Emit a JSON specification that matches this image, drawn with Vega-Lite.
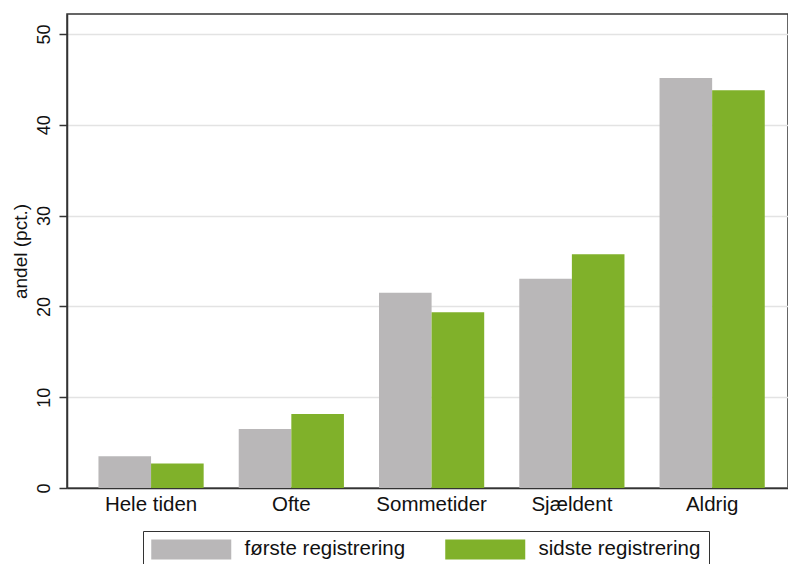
{
  "$schema": "https://vega.github.io/schema/vega-lite/v6.json",
  "autosize": {"type": "none"},
  "width": 721,
  "height": 474,
  "padding": {"left": 67, "top": 14, "right": 0, "bottom": 76},
  "background": "white",
  "config": {
    "font": "Liberation Sans",
    "view": {"stroke": "#333333", "strokeWidth": 1.5},
    "axis": {"labelFont": "Liberation Sans", "titleFont": "Liberation Sans", "labelColor": "#111", "titleColor": "#111"},
    "legend": {"labelFont": "Liberation Sans"}
  },
  "data": {
    "values": [
      {"kategori": "Hele tiden", "serie": "første registrering", "andel": 3.5},
      {"kategori": "Hele tiden", "serie": "sidste registrering", "andel": 2.7},
      {"kategori": "Ofte", "serie": "første registrering", "andel": 6.5},
      {"kategori": "Ofte", "serie": "sidste registrering", "andel": 8.15},
      {"kategori": "Sommetider", "serie": "første registrering", "andel": 21.5},
      {"kategori": "Sommetider", "serie": "sidste registrering", "andel": 19.35},
      {"kategori": "Sjældent", "serie": "første registrering", "andel": 23.05},
      {"kategori": "Sjældent", "serie": "sidste registrering", "andel": 25.75},
      {"kategori": "Aldrig", "serie": "første registrering", "andel": 45.15},
      {"kategori": "Aldrig", "serie": "sidste registrering", "andel": 43.8}
    ]
  },
  "mark": {"type": "bar"},
  "encoding": {
    "x": {
      "field": "kategori", "type": "nominal",
      "sort": ["Hele tiden", "Ofte", "Sommetider", "Sjældent", "Aldrig"],
      "scale": {"paddingInner": 0.25, "paddingOuter": 0.195, "align": 0.575},
      "axis": {"title": null, "labelAngle": 0, "labelFontSize": 20.5, "labelPadding": 6, "ticks": false, "domainColor": "#333", "domainWidth": 1.5}
    },
    "xOffset": {"field": "serie", "type": "nominal", "sort": ["første registrering", "sidste registrering"]},
    "y": {
      "field": "andel", "type": "quantitative",
      "scale": {"domain": [0, 52.2], "nice": false},
      "axis": {
        "title": "andel (pct.)", "titleFontSize": 19, "titleFontWeight": "normal", "titlePadding": 5,
        "values": [0, 10, 20, 30, 40, 50], "labelFontSize": 18, "labelAngle": -90, "labelPadding": 6,
        "tickSize": 8, "tickColor": "#333", "tickWidth": 1.5, "domainColor": "#333", "domainWidth": 1.5,
        "grid": true, "gridColor": "#e3e3e3", "gridWidth": 1.5
      }
    },
    "color": {
      "field": "serie", "type": "nominal",
      "scale": {"domain": ["første registrering", "sidste registrering"], "range": ["#b9b7b8", "#80b12a"]},
      "legend": {
        "title": null, "orient": "none", "legendX": 76, "legendY": 517, "direction": "horizontal", "columns": 2,
        "symbolType": "M-1,-1H7V1H-1Z", "symbolSize": 400, "symbolStrokeWidth": 0, "symbolOpacity": 1,
        "labelFontSize": 20.5, "labelColor": "#111", "labelOffset": 73, "labelLimit": 300, "columnPadding": 39,
        "strokeColor": "#333", "padding": 8, "fillColor": "white"
      }
    }
  }
}
